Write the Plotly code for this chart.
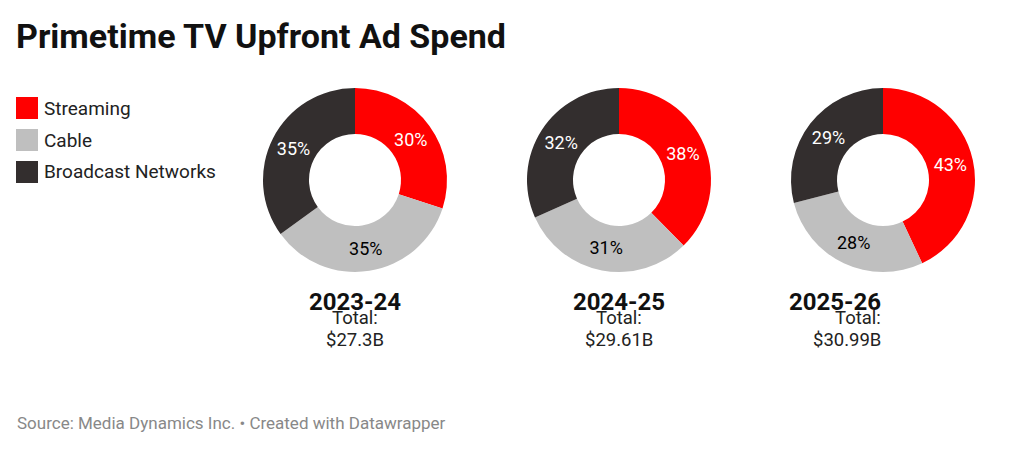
import plotly.graph_objects as go

segments = ["Streaming", "Cable", "Broadcast Networks"]
years = ["2023-24", "2024-25", "2025-26"]
totals = ["$27.3B", "$29.61B", "$30.99B"]
shares = [[30, 35, 35], [38, 31, 32], [43, 28, 29]]
colors = ["#ff0000", "#bfbfbf", "#332e2e"]
text_colors = ["white", "black", "white"]

OFF = 8  # page body margin
W, H = 1024, 449
centers = [355 - OFF, 619 - OFF, 883 - OFF]
cy = 180 - OFF
r = 92


def py(y):
    return 1 - (y - OFF) / H


fig = go.Figure()
for i, (yr, vals) in enumerate(zip(years, shares)):
    cx = centers[i]
    fig.add_trace(go.Pie(
        labels=segments, values=vals, sort=False, direction="clockwise", rotation=0,
        hole=0.5, marker=dict(colors=colors, line=dict(width=0)),
        text=[f"{v}%" for v in vals], textinfo="text", textposition="inside",
        insidetextorientation="horizontal",
        textfont=dict(size=18, color=text_colors, family="Roboto"),
        domain=dict(x=[(cx - r) / W, (cx + r) / W], y=[1 - (cy + r) / H, 1 - (cy - r) / H]),
        showlegend=False, hoverinfo="label+percent",
    ))
    fig.add_annotation(x=cx / W, y=py(302), xref="paper", yref="paper", text=f"<b>{yr}</b>",
                       showarrow=False, font=dict(size=24, color="#111", family="Roboto"))
    fig.add_annotation(x=cx / W, y=py(331), xref="paper", yref="paper", text="Total:",
                       showarrow=False, font=dict(size=18.5, color="#222", family="Roboto"))
    fig.add_annotation(x=cx / W, y=py(353), xref="paper", yref="paper", text=totals[i],
                       showarrow=False, font=dict(size=18.5, color="#222", family="Roboto"))

# manual legend
for j, seg in enumerate(segments):
    top = 97 + 32 * j - OFF
    fig.add_shape(type="rect", xref="paper", yref="paper",
                  x0=(16 - OFF) / W, x1=(38 - OFF) / W, y0=1 - (top + 22) / H, y1=1 - top / H,
                  fillcolor=colors[j], line=dict(width=0))
    fig.add_annotation(x=(42 - OFF) / W, y=1 - (top + 11) / H, xref="paper", yref="paper",
                       xanchor="left", yanchor="middle", text=seg, showarrow=False,
                       font=dict(size=19, color="#222", family="Roboto"))

fig.add_annotation(x=(14 - OFF) / W, y=py(36), xref="paper", yref="paper", xanchor="left",
                   yanchor="middle", text="<b>Primetime TV Upfront Ad Spend</b>",
                   showarrow=False, font=dict(size=34, color="#111", family="Roboto"))
fig.add_annotation(x=(15 - OFF) / W, y=py(423), xref="paper", yref="paper", xanchor="left",
                   yanchor="middle", text="Source: Media Dynamics Inc. • Created with Datawrapper",
                   showarrow=False, font=dict(size=17, color="#888", family="Roboto"))

fig.update_layout(width=W, height=H, margin=dict(l=0, r=0, t=0, b=0), paper_bgcolor="white",
                  showlegend=False)
fig.write_html("out.html")
